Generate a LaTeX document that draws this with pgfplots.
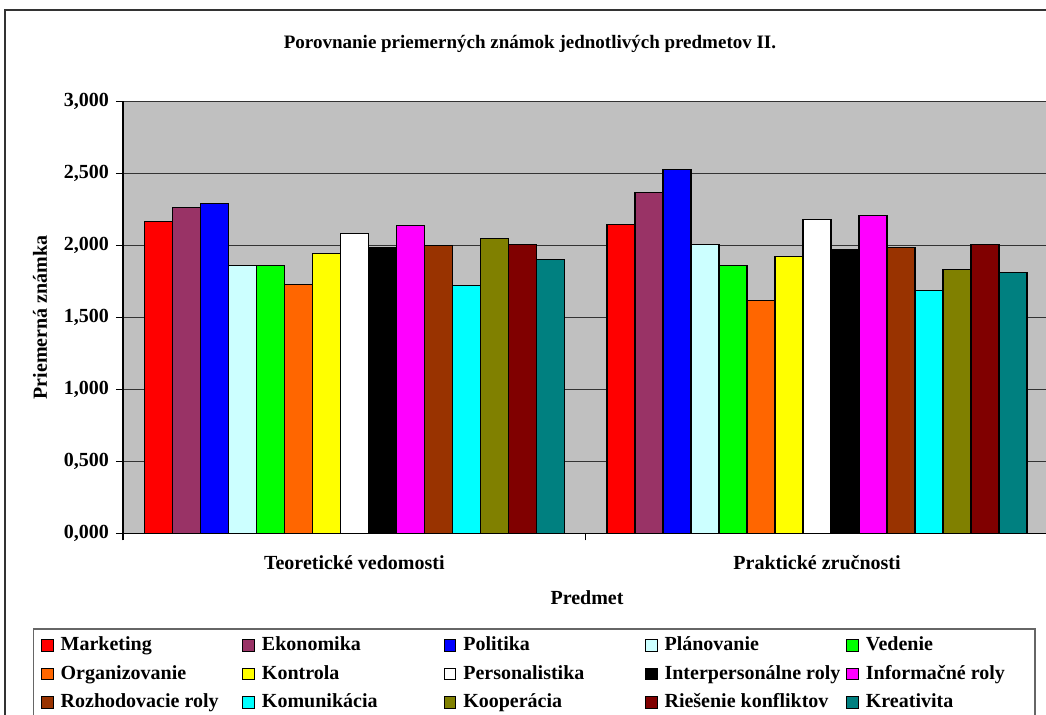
\documentclass[border=0pt]{standalone}
\usepackage{fontspec}
\setmainfont{Liberation Serif}
\usepackage{pgfplots}
\pgfplotsset{compat=1.18}
\definecolor{bggray}{RGB}{192,192,192}
\definecolor{cMarketing}{RGB}{255,0,0}
\definecolor{cEkonomika}{RGB}{153,51,102}
\definecolor{cPolitika}{RGB}{0,0,255}
\definecolor{cPlanovanie}{RGB}{204,255,255}
\definecolor{cVedenie}{RGB}{0,255,0}
\definecolor{cOrganizovanie}{RGB}{255,102,0}
\definecolor{cKontrola}{RGB}{255,255,0}
\definecolor{cPersonalistika}{RGB}{255,255,255}
\definecolor{cInterpersonalne}{RGB}{0,0,0}
\definecolor{cInformacne}{RGB}{255,0,255}
\definecolor{cRozhodovacie}{RGB}{153,51,0}
\definecolor{cKomunikacia}{RGB}{0,255,255}
\definecolor{cKooperacia}{RGB}{128,128,0}
\definecolor{cRiesenie}{RGB}{128,0,0}
\definecolor{cKreativita}{RGB}{0,128,128}
\newcommand{\legtxt}[1]{\makebox[90.85pt][l]{#1}}
\begin{document}
\begin{tikzpicture}[font=\bfseries]
\begin{axis}[
  scale only axis, width=462.7pt, height=216pt,
  xmin=-0.5, xmax=1.5, ymin=0, ymax=3,
  ybar=0pt, bar width=14pt,
  axis background/.style={fill=bggray},
  axis x line*=bottom, axis y line*=left,
  axis line style={black, line width=0.6pt},
  ymajorgrids, grid style={black!80, line width=0.5pt},
  ytick={0,0.5,...,3},
  yticklabel={\pgfmathprintnumber[fixed, fixed zerofill, precision=3, use comma]{\tick}},
  /pgf/number format/assume math mode=true,
  tick align=outside, major tick length=3.5pt,
  tick style={black, line width=0.6pt},
  xtick={-0.5,0.5,1.5}, xticklabels={},
  extra x ticks={0,1},
  extra x tick labels={Teoretické vedomosti, Praktické zručnosti},
  extra x tick style={major tick length=0pt, grid=none, xticklabel style={yshift=-7.5pt}},
  tick label style={font=\bfseries},
  ylabel={Priemerná známka},
  ylabel style={at={(axis description cs:-0.0897,0.5)}, anchor=center, font=\bfseries},
  xlabel={Predmet},
  xlabel style={at={(axis description cs:0.5014,-0.1493)}, anchor=center, font=\bfseries},
  every axis plot/.append style={draw=black, line width=0.6pt},
  legend columns=5,
  legend style={at={(axis description cs:-0.08894,-0.23796)}, anchor=north west, draw=none, fill=none, inner sep=0pt, row sep=5.25pt,
    nodes={inner sep=0pt, anchor=west, text height=7pt, text depth=2pt}, font=\bfseries,
    /tikz/every odd column/.append style={column sep=3.5pt},
    /tikz/every even column/.append style={column sep=0pt}},
  legend image code/.code={\draw[#1,line width=0.5pt] (0pt,-2.9pt) rectangle (5.8pt,2.9pt);},
]
\addplot[fill=cMarketing] coordinates {(0,2.169) (1,2.148)};
\addlegendentry{\legtxt{Marketing}}
\addplot[fill=cEkonomika] coordinates {(0,2.262) (1,2.370)};
\addlegendentry{\legtxt{Ekonomika}}
\addplot[fill=cPolitika] coordinates {(0,2.290) (1,2.528)};
\addlegendentry{\legtxt{Politika}}
\addplot[fill=cPlanovanie] coordinates {(0,1.859) (1,2.007)};
\addlegendentry{\legtxt{Plánovanie}}
\addplot[fill=cVedenie] coordinates {(0,1.859) (1,1.859)};
\addlegendentry{\legtxt{Vedenie}}
\addplot[fill=cOrganizovanie] coordinates {(0,1.727) (1,1.620)};
\addlegendentry{\legtxt{Organizovanie}}
\addplot[fill=cKontrola] coordinates {(0,1.942) (1,1.926)};
\addlegendentry{\legtxt{Kontrola}}
\addplot[fill=cPersonalistika] coordinates {(0,2.083) (1,2.181)};
\addlegendentry{\legtxt{Personalistika}}
\addplot[fill=cInterpersonalne] coordinates {(0,1.988) (1,1.972)};
\addlegendentry{\legtxt{Interpersonálne roly}}
\addplot[fill=cInformacne] coordinates {(0,2.139) (1,2.206)};
\addlegendentry{\legtxt{Informačné roly}}
\addplot[fill=cRozhodovacie] coordinates {(0,2.000) (1,1.984)};
\addlegendentry{\legtxt{Rozhodovacie roly}}
\addplot[fill=cKomunikacia] coordinates {(0,1.722) (1,1.688)};
\addlegendentry{\legtxt{Komunikácia}}
\addplot[fill=cKooperacia] coordinates {(0,2.051) (1,1.833)};
\addlegendentry{\legtxt{Kooperácia}}
\addplot[fill=cRiesenie] coordinates {(0,2.007) (1,2.007)};
\addlegendentry{\legtxt{Riešenie konfliktov}}
\addplot[fill=cKreativita] coordinates {(0,1.903) (1,1.810)};
\addlegendentry{\legtxt{Kreativita}}
\end{axis}
\node[font=\bfseries\fontsize{9.5}{11}\selectfont, anchor=center] at (203.5pt,245pt) {Porovnanie priemerných známok jednotlivých predmetov II.};
\draw[black!60, line width=0.6pt] (-44.85pt,-47.75pt) rectangle (456pt,-100pt);
\draw[black!80, line width=0.75pt] (-59pt,261.75pt) rectangle (485pt,-100pt);
\pgfresetboundingbox
\useasboundingbox (-61.5pt,-90.75pt) rectangle (461.5pt,266.75pt);
\end{tikzpicture}
\end{document}
